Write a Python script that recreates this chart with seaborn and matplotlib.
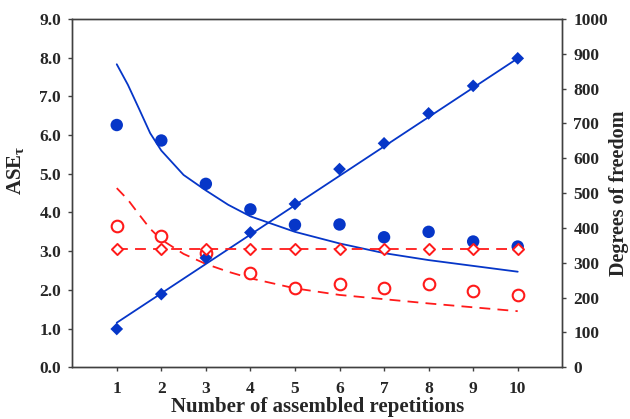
import numpy as np
import seaborn as sns
import matplotlib.pyplot as plt

# repetitions
reps = [1, 2, 3, 4, 5, 6, 7, 8, 9, 10]

# ASE values (left axis)
ase_blue = [6.26, 5.86, 4.74, 4.08, 3.68, 3.69, 3.36, 3.50, 3.25, 3.12]
ase_red = [3.65, 3.40, 2.96, 2.43, 2.04, 2.15, 2.04, 2.15, 1.98, 1.88]

# fitted ASE curves
fit_x = [1, 1.25, 1.5, 1.75, 2, 2.5, 3, 3.5, 4, 5, 6, 7, 8, 9, 10]
fit_blue = [7.83, 7.30, 6.68, 6.05, 5.60, 4.97, 4.57, 4.20, 3.90, 3.50, 3.20, 2.95, 2.77, 2.62, 2.47]
fit_red = [4.63, 4.33, 3.95, 3.58, 3.30, 2.93, 2.67, 2.47, 2.30, 2.04, 1.87, 1.76, 1.65, 1.55, 1.45]

# degrees of freedom (right axis)
df_blue = [110, 210, 314, 387, 469, 569, 643, 729, 808, 887]
df_red = [339, 339, 339, 339, 339, 339, 339, 339, 339, 339]
df_line_x = [1, 10]
df_line_blue = [128, 887]

blue = '#0636c8'
red = '#ff1a1a'

sns.set_style('ticks')
plt.rcParams['font.family'] = ['Liberation Serif', 'DejaVu Serif']
plt.rcParams['font.weight'] = 'bold'
plt.rcParams['mathtext.fontset'] = 'custom'
plt.rcParams['mathtext.rm'] = 'Liberation Serif:bold'
plt.rcParams['mathtext.it'] = 'Liberation Serif:bold'

fig = plt.figure(figsize=(6.3, 4.19), dpi=100)
ax = fig.add_axes([0.1146, 0.1234, 0.7779, 0.8313])
ax2 = ax.twinx()

# ASE curves and points
sns.lineplot(x=fit_x, y=fit_blue, ax=ax, color=blue, lw=1.3)
sns.lineplot(x=fit_x, y=fit_red, ax=ax, color=red, lw=1.3)
ax.lines[-1].set_dashes([6, 4])
sns.scatterplot(x=reps, y=ase_blue, ax=ax, color=blue, s=80, edgecolor='none', zorder=3)
ax.scatter(reps, ase_red, s=70, facecolors='white', edgecolors=red, linewidths=1.5, zorder=3)

# degrees of freedom
sns.lineplot(x=df_line_x, y=df_line_blue, ax=ax2, color=blue, lw=1.3)
sns.lineplot(x=reps, y=df_red, ax=ax2, color=red, lw=1.3)
ax2.lines[-1].set_dashes([6, 4])
sns.scatterplot(x=reps, y=df_blue, ax=ax2, color=blue, marker='D', s=42, edgecolor='none', zorder=3)
ax2.scatter(reps, df_red, marker='D', s=32, facecolors='white', edgecolors=red, linewidths=1.4, zorder=3)

ax.set_xlim(0, 11)
ax.set_ylim(0, 9)
ax2.set_ylim(0, 1000)
ax.set_xticks(reps)
ax.set_yticks(np.arange(0, 9.5, 1.0))
ax.set_yticklabels([f'{v:.1f}' for v in np.arange(0, 9.5, 1.0)])
ax2.set_yticks(range(0, 1001, 100))

ax.set_xlabel('Number of assembled repetitions', fontsize=15, fontweight='bold', labelpad=0)
ax.set_ylabel(r'ASE$_{\tau}$', fontsize=15, fontweight='bold')
ax.yaxis.set_label_coords(-0.095, 0.566)
ax2.set_ylabel('Degrees of freedom', fontsize=14.5, fontweight='bold', labelpad=1)

spine_color = '#404040'
for a in (ax, ax2):
    for sp in a.spines.values():
        sp.set_color(spine_color)
        sp.set_linewidth(1.0)
    a.tick_params(direction='out', length=3, width=1, color=spine_color, labelsize=12.5, pad=5)
ax.tick_params(axis='x', pad=7)
for lbl in ax.get_xticklabels() + ax.get_yticklabels() + ax2.get_yticklabels():
    lbl.set_fontweight('bold')

fig.savefig('out.png', dpi=100)
